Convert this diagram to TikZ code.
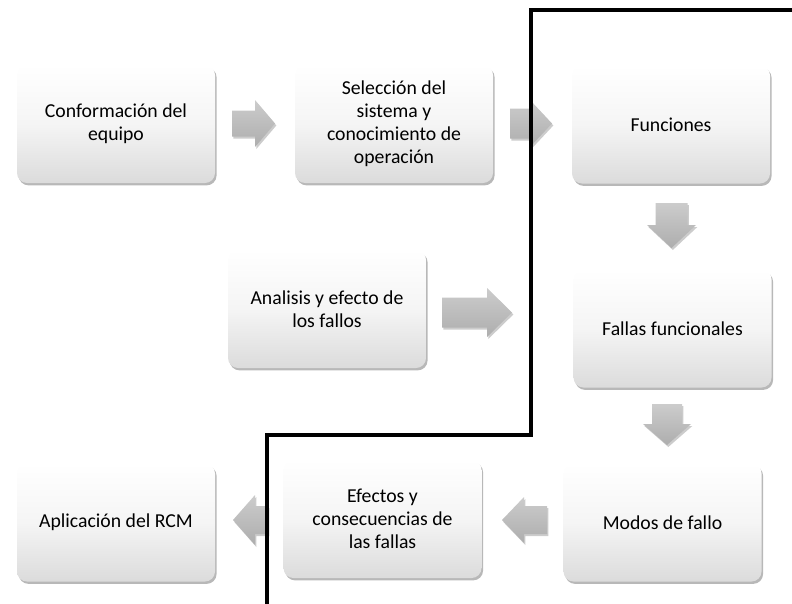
\documentclass[tikz,border=0pt]{standalone}
\usepackage{fontspec}
\setmainfont{Carlito}
\usetikzlibrary{shadows}
\newcommand{\upx}{0.75pt}
\tikzset{
  stepbox/.style={rectangle, rounded corners=7.5pt, minimum width=198*\upx, minimum height=118*\upx,
    top color=white, bottom color=black!14, middle color=white!96!black,
    drop shadow={shadow xshift=1.2pt, shadow yshift=-1.8pt, fill=black, opacity=0.28},
    align=center, font=\fontsize{14.8}{17.3}\selectfont, text=black, inner sep=2pt},
  blockarr/.style={top color=black!20, bottom color=black!32,
    drop shadow={shadow xshift=1pt, shadow yshift=-1.5pt, fill=black, opacity=0.2}},
  pics/barrow/.style n args={4}{code={
    \path[blockarr] (-#1/2,-#3/2) -- (#1/2-#4,-#3/2) -- (#1/2-#4,-#2/2) -- (#1/2,0)
      -- (#1/2-#4,#2/2) -- (#1/2-#4,#3/2) -- (-#1/2,#3/2) -- cycle;
  }},
  border/.style={line width=2.4pt, black, line join=miter}
}
\begin{document}
\begin{tikzpicture}[x=0.75pt,y=-0.75pt]
\useasboundingbox (0,0) rectangle (792,603);
% boxes
\node[stepbox] (conf) at (116,124) {Conformación del\\equipo};
\node[stepbox] (sel)  at (394,124) {Selección del\\sistema y\\conocimiento de\\operación};
\node[stepbox] (fun)  at (671,124.5) {Funciones};
\node[stepbox] (ana)  at (327,309) {Analisis y efecto de\\los fallos};
\node[stepbox] (fal)  at (672.5,328.5) {Fallas funcionales};
\node[stepbox] (mod)  at (662.5,522.5) {Modos de fallo};
\node[stepbox] (efe)  at (382.5,519) {Efectos y\\consecuencias de\\las fallas};
\node[stepbox] (apl)  at (116,522.5) {Aplicación del RCM};
% block arrows
\pic (a1) at (253.5,123.5) {barrow={43}{47}{26}{20}};
\pic (a2) at (531,123.5) {barrow={42}{47}{30}{22}};
\pic (a3) at (477,312.5) {barrow={70}{49}{30}{25}};
\pic[rotate=-90] (a4) at (671.5,225.5) {barrow={45}{49}{32}{23}};
\pic[rotate=-90] (a5) at (667,424.5) {barrow={41}{48}{30}{21}};
\pic[rotate=180] (a6) at (524.5,520) {barrow={45}{46}{28}{22}};
\pic[rotate=180] (a7) at (250.5,520) {barrow={35}{50}{28}{22}};
% thick border line
\draw[border] (267,604) -- (267,435) -- (531,435) -- (531,10) -- (793,10);
\end{tikzpicture}
\end{document}
